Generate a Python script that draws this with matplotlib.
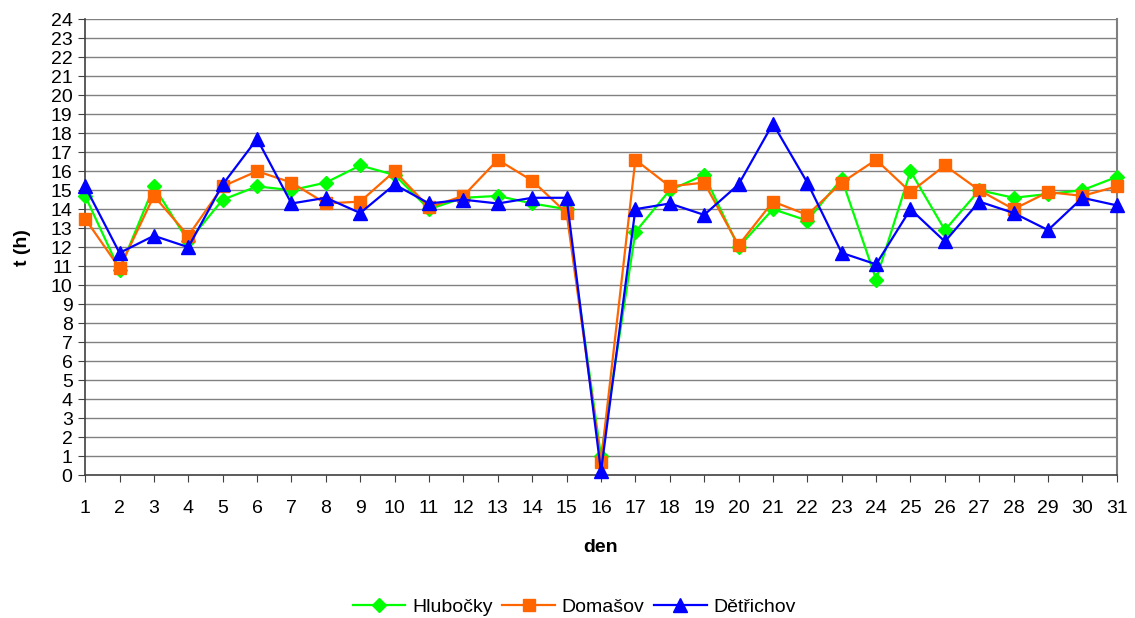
import matplotlib
matplotlib.use("Agg")
import matplotlib.pyplot as plt
import numpy as np

plt.rcParams['font.family'] = ['Liberation Sans', 'DejaVu Sans']

days = list(range(1, 32))

# t (h) for each day
hlubocky = [14.7, 10.8, 15.2, 12.3, 14.5, 15.2, 15.0, 15.4, 16.3, 15.8,
            14.0, 14.6, 14.7, 14.3, 14.0, 1.0, 12.8, 15.0, 15.8, 12.0,
            14.0, 13.4, 15.6, 10.3, 16.0, 12.9, 15.0, 14.6, 14.8, 15.0, 15.7]
domasov = [13.5, 10.9, 14.7, 12.6, 15.2, 16.0, 15.4, 14.3, 14.4, 16.0,
           14.1, 14.7, 16.6, 15.5, 13.8, 0.7, 16.6, 15.2, 15.4, 12.1,
           14.4, 13.7, 15.4, 16.6, 14.9, 16.3, 15.0, 14.0, 14.9, 14.7, 15.2]
detrichov = [15.2, 11.7, 12.6, 12.0, 15.3, 17.7, 14.3, 14.6, 13.8, 15.3,
             14.3, 14.5, 14.3, 14.6, 14.6, 0.2, 14.0, 14.3, 13.7, 15.3,
             18.5, 15.4, 11.7, 11.1, 14.0, 12.3, 14.4, 13.8, 12.9, 14.6, 14.2]

fig = plt.figure(figsize=(11.35, 6.18), dpi=100)
ax = fig.add_axes([0.075, 0.231, 0.909, 0.738])

# gridlines
for v in range(1, 25):
    ax.axhline(v, color='#808080', lw=1, zorder=0)

ax.plot(days, hlubocky, color='#00FF00', marker='D', markersize=7.5, lw=1.6,
        label='Hlubočky', clip_on=False, zorder=3)
ax.plot(days, domasov, color='#FF6600', marker='s', markersize=8.5, lw=1.6,
        label='Domašov', clip_on=False, zorder=4)
ax.plot(days, detrichov, color='#0000FF', marker='^', markersize=10, lw=1.6,
        label='Dětřichov', clip_on=False, zorder=5)

ax.set_xlim(1, 31)
ax.set_ylim(0, 24)
ax.set_xticks(days)
ax.set_yticks(range(0, 25))
ax.tick_params(axis='both', labelsize=14, direction='out', length=5, color='#404040')
ax.tick_params(axis='x', pad=13)
ax.tick_params(axis='y', pad=4)

for s in ['left', 'bottom']:
    ax.spines[s].set_color('#404040')
    ax.spines[s].set_linewidth(1.2)
ax.spines['top'].set_visible(False)
ax.spines['right'].set_color('#808080')
ax.spines['right'].set_linewidth(1.5)

ax.set_xlabel('den', fontsize=14, fontweight='bold', labelpad=16)
ax.set_ylabel('t (h)', fontsize=14, fontweight='bold', labelpad=14)

fig.legend(loc='center', bbox_to_anchor=(0.506, 0.018), ncol=3, frameon=False,
           fontsize=14, handlelength=2.7, columnspacing=0.5, handletextpad=0.35)

fig.savefig('out.png', dpi=100)
